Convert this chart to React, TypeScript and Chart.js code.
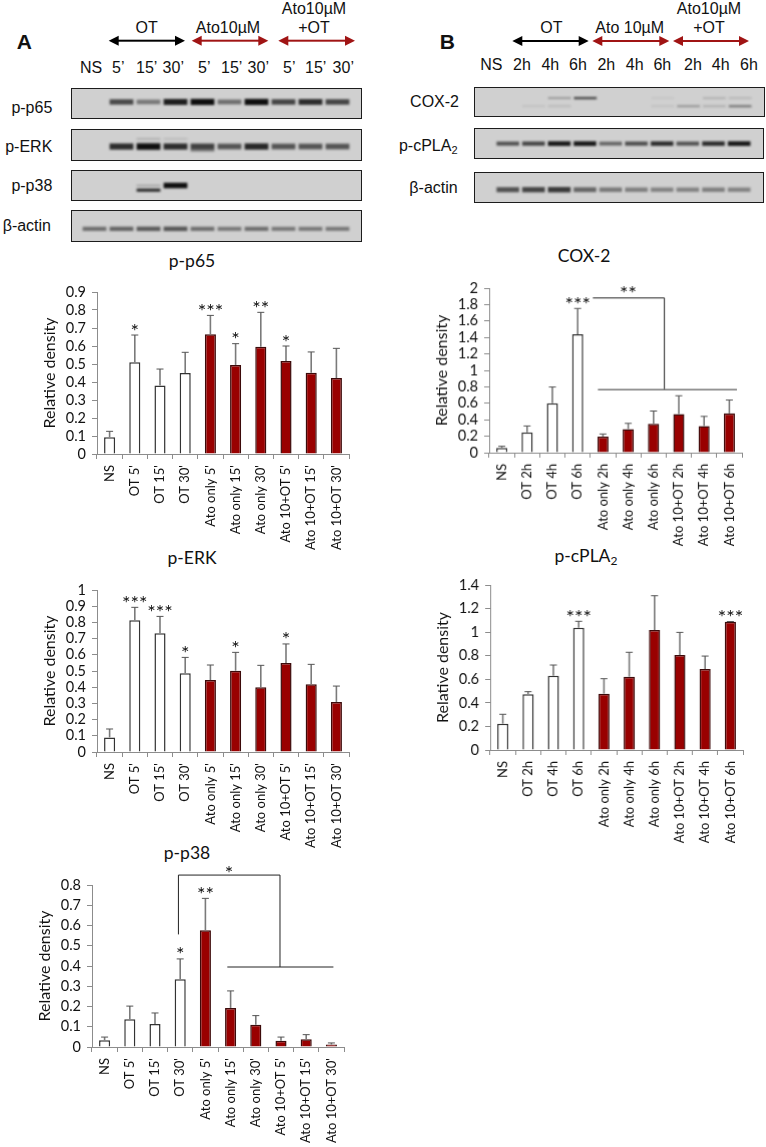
import React, { useEffect, useRef } from "react";
import { Chart, registerables } from "chart.js";

Chart.register(...registerables);

const FONT = "Lato, 'Open Sans', sans-serif";
const SANS = "'Liberation Sans', Arial, sans-serif";

// ---------- chart data ----------
const minuteCategories = ["NS", "OT 5'", "OT 15'", "OT 30'", "Ato only 5'", "Ato only 15'", "Ato only 30'", "Ato 10+OT 5'", "Ato 10+OT 15'", "Ato 10+OT 30'"];
const hourCategories = ["NS", "OT 2h", "OT 4h", "OT 6h", "Ato only 2h", "Ato only 4h", "Ato only 6h", "Ato 10+OT 2h", "Ato 10+OT 4h", "Ato 10+OT 6h"];

const p65Values = [0.093, 0.51, 0.381, 0.45, 0.665, 0.495, 0.596, 0.517, 0.452, 0.422];
const p65ErrTop = [0.126, 0.661, 0.472, 0.565, 0.77, 0.613, 0.787, 0.6, 0.567, 0.587];
const p65Stars = ["", "*", "", "", "***", "*", "**", "*", "", ""];

const erkValues = [0.09, 0.813, 0.733, 0.486, 0.444, 0.502, 0.4, 0.55, 0.418, 0.309];
const erkErrTop = [0.142, 0.893, 0.837, 0.584, 0.537, 0.615, 0.535, 0.667, 0.541, 0.407];
const erkStars = ["", "***", "***", "*", "", "*", "", "*", "", ""];

const p38Values = [0.033, 0.137, 0.114, 0.334, 0.576, 0.193, 0.11, 0.031, 0.038, 0.012];
const p38ErrTop = [0.049, 0.202, 0.168, 0.435, 0.734, 0.277, 0.155, 0.049, 0.061, 0.02];
const p38Stars = ["", "", "", "*", "**", "", "", "", "", ""];

const coxValues = [0.057, 0.247, 0.6, 1.44, 0.194, 0.287, 0.352, 0.47, 0.324, 0.478];
const coxErrTop = [0.077, 0.324, 0.798, 1.753, 0.227, 0.356, 0.506, 0.692, 0.441, 0.64];
const coxStars = ["", "", "", "***", "", "", "", "", "", ""];

const cplaValues = [0.223, 0.472, 0.631, 1.038, 0.478, 0.622, 1.018, 0.806, 0.687, 1.089];
const cplaErrTop = [0.303, 0.495, 0.721, 1.092, 0.605, 0.829, 1.309, 0.998, 0.797, 1.09];
const cplaStars = ["", "", "", "***", "", "", "", "", "", "***"];

// significance brackets: [x1, y1, x2, y2] in category index / value units
const coxBrackets = [[3.6, 1.88, 6.43, 1.88], [6.43, 1.88, 6.43, 0.765]];
const coxBracketsGrey = [[3.8, 0.765, 9.3, 0.765]];
const coxBracketStars = [[5.0, 1.854, "**"]];
const p38Brackets = [[2.93, 0.849, 6.96, 0.849], [2.93, 0.849, 2.93, 0.556], [6.96, 0.849, 6.96, 0.395], [4.87, 0.395, 9.08, 0.395]];
const p38BracketStars = [[4.94, 0.826, "*"]];

// ---------- blot data (band strength per lane) ----------
const p65Bands = [{ level: 0.45, thick: 0.2, alpha: [0, 0.7, 0.45, 0.92, 1, 0.5, 1, 0.72, 0.85, 0.72] }];
const erkBands = [
  { level: 0.56, thick: 0.2, alpha: [0, 0.85, 1, 0.85, 0.75, 0.65, 0.88, 0.65, 0.65, 0.65] },
  { level: 0.68, thick: 0.08, alpha: [0, 0, 0, 0, 0.45, 0, 0, 0, 0, 0] },
  { level: 0.33, thick: 0.06, alpha: [0, 0, 0.25, 0.18, 0, 0, 0, 0, 0, 0] },
];
const p38Bands = [
  { level: 0.65, thick: 0.11, alpha: [0, 0, 0.85, 0, 0, 0, 0, 0, 0, 0] },
  { level: 0.5, thick: 0.06, alpha: [0, 0, 0.3, 0, 0, 0, 0, 0, 0, 0] },
  { level: 0.5, thick: 0.18, alpha: [0, 0, 0, 1, 0, 0, 0, 0, 0, 0] },
];
const actinABands = [{ level: 0.62, thick: 0.17, alpha: [0.5, 0.55, 0.6, 0.62, 0.5, 0.45, 0.5, 0.45, 0.45, 0.45] }];
const coxBlotBands = [
  { level: 0.37, thick: 0.09, alpha: [0, 0, 0.3, 0.7, 0, 0, 0.06, 0, 0.18, 0.15] },
  { level: 0.64, thick: 0.1, alpha: [0, 0.08, 0.12, 0, 0, 0, 0.08, 0.3, 0.18, 0.45] },
];
const cplaBlotBands = [{ level: 0.52, thick: 0.16, alpha: [0.65, 0.72, 0.95, 0.95, 0.55, 0.68, 0.85, 0.65, 0.85, 0.95] }];
const actinBBands = [{ level: 0.59, thick: 0.2, alpha: [0.65, 0.72, 0.78, 0.55, 0.45, 0.42, 0.4, 0.4, 0.42, 0.4] }];
const laneNames = ["1", "2", "3", "4", "5", "6", "7", "8", "9", "10"];

const WHITE = "#ffffff";
const RED = "#990000";
const barFill = [WHITE, WHITE, WHITE, WHITE, RED, RED, RED, RED, RED, RED];
const barEdge = ["#333", "#333", "#333", "#333", "#3c0a0a", "#3c0a0a", "#3c0a0a", "#3c0a0a", "#3c0a0a", "#3c0a0a"];

function BarPanel(p: any) {
  const ref = useRef<HTMLCanvasElement>(null);
  useEffect(() => {
    const overlay = {
      id: "overlay",
      afterDatasetsDraw(chart: any) {
        const { ctx, scales } = chart;
        const x = scales.x, y = scales.y;
        ctx.save();
        p.errTop.forEach((top: number, i: number) => {
          const px = x.getPixelForValue(i);
          const y1 = y.getPixelForValue(p.values[i]);
          const y2 = y.getPixelForValue(top);
          ctx.strokeStyle = "#7a7a7a";
          ctx.lineWidth = 1.6;
          ctx.beginPath();
          ctx.moveTo(px, y1);
          ctx.lineTo(px, y2);
          ctx.stroke();
          ctx.strokeStyle = "#555";
          ctx.lineWidth = 1;
          ctx.beginPath();
          ctx.moveTo(px - 3.5, y2);
          ctx.lineTo(px + 3.5, y2);
          ctx.stroke();
          if (p.stars[i]) {
            ctx.fillStyle = "#111";
            ctx.font = `20px ${FONT}`;
            ctx.textAlign = "center";
            ctx.textBaseline = "alphabetic";
            ctx.fillText(p.stars[i], px, y2 + 2.5);
          }
        });
        const seg = (list: number[][], color: string, w: number) => {
          ctx.strokeStyle = color;
          ctx.lineWidth = w;
          list.forEach(([a, b, c, d]) => {
            ctx.beginPath();
            ctx.moveTo(x.getPixelForValue(a), y.getPixelForValue(b));
            ctx.lineTo(x.getPixelForValue(c), y.getPixelForValue(d));
            ctx.stroke();
          });
        };
        seg(p.brackets || [], "#222", 1);
        seg(p.bracketsGrey || [], "#777", 1.4);
        (p.bracketStars || []).forEach(([a, b, s]: any) => {
          ctx.fillStyle = "#111";
          ctx.font = `20px ${FONT}`;
          ctx.textAlign = "center";
          ctx.textBaseline = "alphabetic";
          ctx.fillText(s, x.getPixelForValue(a), y.getPixelForValue(b));
        });
        ctx.restore();
      },
    };
    const chart = new Chart(ref.current as any, {
      type: "bar",
      data: {
        labels: p.categories,
        datasets: [{
          data: p.values,
          backgroundColor: barFill,
          borderColor: barEdge,
          borderWidth: 1.5,
          barPercentage: 0.44,
          categoryPercentage: 1,
        }],
      },
      plugins: [overlay],
      options: {
        responsive: false,
        animation: false,
        events: [],
        layout: { padding: { top: p.padTop, right: 10, left: 0, bottom: 0 } },
        plugins: { legend: { display: false }, tooltip: { enabled: false }, title: { display: false } },
        scales: {
          x: {
            afterFit: (s: any) => { s.height = p.xHeight; },
            grid: { offset: true, drawOnChartArea: false, drawTicks: true, tickLength: 5, color: "#8c8c8c", tickColor: "#8c8c8c" },
            border: { color: "#8c8c8c", width: 1 },
            ticks: { autoSkip: false, minRotation: 90, maxRotation: 90, padding: 6, color: "#111", font: { family: FONT, size: 13 } },
          },
          y: {
            min: 0,
            max: p.max,
            afterFit: (s: any) => { s.width = p.yWidth; },
            title: { display: true, text: "Relative density", color: "#111", padding: 0, font: { family: FONT, size: 16 } },
            grid: { drawOnChartArea: false, drawTicks: true, tickLength: 5, color: "#8c8c8c", tickColor: "#8c8c8c" },
            border: { color: "#8c8c8c", width: 1 },
            ticks: {
              stepSize: p.step,
              autoSkip: false,
              padding: 6,
              color: "#111",
              font: { family: FONT, size: 14.5 },
              callback: (v: any) => String(+Number(v).toFixed(1)),
            },
          },
        },
      },
    } as any);
    return () => chart.destroy();
  }, []);
  const width = p.plotRight - p.plotLeft + p.yWidth + 10;
  const height = p.padTop + (p.plotBottom - p.plotTop) + p.xHeight;
  return (
    <canvas
      ref={ref}
      width={width}
      height={height}
      style={{ position: "absolute", left: p.plotLeft - p.yWidth, top: p.plotTop - p.padTop, width, height }}
    />
  );
}

function Blot(p: any) {
  const ref = useRef<HTMLCanvasElement>(null);
  const w = p.right - p.left;
  const h = p.bottom - p.top;
  useEffect(() => {
    const chart = new Chart(ref.current as any, {
      type: "bar",
      data: {
        labels: laneNames,
        datasets: p.bands.map((b: any) => ({
          data: b.alpha.map((a: number) => {
            const t = b.thick * (0.55 + 0.45 * a);
            return a > 0 ? [b.level - t / 2, b.level + t / 2] : null;
          }),
          backgroundColor: b.alpha.map((a: number) => `rgba(15,15,15,${a})`),
          barPercentage: 0.88,
          categoryPercentage: 1,
          grouped: false,
        })),
      },
      options: {
        responsive: false,
        animation: false,
        events: [],
        layout: { padding: { left: p.padLeft, right: p.padRight, top: 0, bottom: 0 } },
        plugins: { legend: { display: false }, tooltip: { enabled: false } },
        scales: {
          x: { display: false },
          y: { display: false, min: 0, max: 1, reverse: true },
        },
      },
    } as any);
    return () => chart.destroy();
  }, []);
  return (
    <div style={{ position: "absolute", left: p.left, top: p.top, width: w, height: h, boxSizing: "border-box", border: "1.5px solid #1c1c1c", background: "#d0d0d0", overflow: "hidden" }}>
      <canvas ref={ref} width={w} height={h} style={{ position: "absolute", left: -1.5, top: -1.5, width: w, height: h, filter: "blur(1.2px)" }} />
    </div>
  );
}

function T({ x, y, children, align = "center", size = 16, family = SANS, weight = 400 }: any) {
  const tx = align === "center" ? "-50%" : align === "right" ? "-100%" : "0";
  return (
    <div style={{ position: "absolute", left: x, top: y, transform: `translate(${tx},-50%)`, fontFamily: family, fontSize: size, fontWeight: weight, color: "#111", whiteSpace: "nowrap", lineHeight: 1 }}>
      {children}
    </div>
  );
}

function Arrow({ x1, x2, y, color }: any) {
  const head = 10, half = 5;
  return (
    <g fill={color} stroke="none">
      <rect x={x1 + head - 1} y={y - 1} width={x2 - x1 - 2 * head + 2} height={2} />
      <polygon points={`${x1},${y} ${x1 + head},${y - half} ${x1 + head},${y + half}`} />
      <polygon points={`${x2},${y} ${x2 - head},${y - half} ${x2 - head},${y + half}`} />
    </g>
  );
}

const laneLabelsA: [number, string][] = [[91, "NS"], [118.3, "5’"], [146.7, "15’"], [173.3, "30’"], [204.3, "5’"], [231.7, "15’"], [258.3, "30’"], [289.3, "5’"], [315.7, "15’"], [343.3, "30’"]];
const laneLabelsB: [number, string][] = [[491.3, "NS"], [522, "2h"], [550.3, "4h"], [578, "6h"], [606.3, "2h"], [634.7, "4h"], [662.3, "6h"], [693, "2h"], [720.7, "4h"], [749, "6h"]];

export default function App() {
  return (
    <div style={{ position: "absolute", left: 0, top: 0, width: 766, height: 1147, overflow: "hidden", background: "#fff" }}>
      <svg width={766} height={1147} style={{ position: "absolute", left: 0, top: 0 }}>
        <Arrow x1={108.7} x2={185} y={40.7} color="#000" />
        <Arrow x1={191.7} x2={268.3} y={40.7} color="#a01414" />
        <Arrow x1={278.3} x2={355} y={40.7} color="#a01414" />
        <Arrow x1={512.3} x2={588.7} y={41} color="#000" />
        <Arrow x1={592.3} x2={669.3} y={41} color="#a01414" />
        <Arrow x1={673} x2={749} y={41} color="#a01414" />
      </svg>

      <T x={24.3} y={41} size={21} weight={700}>A</T>
      <T x={447.3} y={41} size={21} weight={700}>B</T>

      <T x={146.7} y={28}>OT</T>
      <T x={228} y={28}>Ato10µM</T>
      <T x={314} y={8.5}>Ato10µM</T>
      <T x={314} y={28}>+OT</T>
      <T x={551.3} y={28}>OT</T>
      <T x={629.7} y={28}>Ato 10µM</T>
      <T x={709} y={8.5}>Ato10µM</T>
      <T x={709} y={28}>+OT</T>

      {laneLabelsA.map(([x, s], i) => <T key={"a" + i} x={x} y={68}>{s}</T>)}
      {laneLabelsB.map(([x, s], i) => <T key={"b" + i} x={x} y={65}>{s}</T>)}

      <T x={52.3} y={108} align="right">p-p65</T>
      <T x={52.3} y={147} align="right">p-ERK</T>
      <T x={52.3} y={186} align="right">p-p38</T>
      <T x={51} y={226} align="right">β-actin</T>
      <T x={459} y={102} align="right">COX-2</T>
      <T x={457.5} y={146} align="right">p-cPLA<sub style={{ fontSize: 11, verticalAlign: -3, lineHeight: 0 }}>2</sub></T>
      <T x={457.7} y={187.5} align="right">β-actin</T>

      <Blot left={71} right={362} top={88} bottom={119} padLeft={10} padRight={11} bands={p65Bands} />
      <Blot left={71} right={362} top={128.5} bottom={161} padLeft={10} padRight={11} bands={erkBands} />
      <Blot left={71} right={362} top={170} bottom={201} padLeft={10} padRight={11} bands={p38Bands} />
      <Blot left={71} right={362} top={209.5} bottom={241.5} padLeft={10} padRight={11} bands={actinABands} />
      <Blot left={474} right={765} top={87} bottom={117} padLeft={21} padRight={12} bands={coxBlotBands} />
      <Blot left={474} right={764} top={128} bottom={158.5} padLeft={21} padRight={12} bands={cplaBlotBands} />
      <Blot left={474} right={764} top={172} bottom={202.5} padLeft={21} padRight={12} bands={actinBBands} />

      <T x={192} y={261} size={17.5} family={FONT}>p-p65</T>
      <T x={584} y={256} size={17.5} family={FONT}>COX-2</T>
      <T x={192} y={558} size={17.5} family={FONT}>p-ERK</T>
      <T x={586} y={556} size={17.5} family={FONT}>p-cPLA<sub style={{ fontSize: 12, verticalAlign: -3, lineHeight: 0 }}>2</sub></T>
      <T x={187} y={853} size={17.5} family={FONT}>p-p38</T>

      <BarPanel categories={minuteCategories} values={p65Values} errTop={p65ErrTop} stars={p65Stars} max={0.9} step={0.1}
        plotLeft={96.7} plotRight={349.5} plotTop={292.3} plotBottom={454.3} yWidth={57} xHeight={100} padTop={20} />
      <BarPanel categories={hourCategories} values={coxValues} errTop={coxErrTop} stars={coxStars} max={2} step={0.2}
        brackets={coxBrackets} bracketsGrey={coxBracketsGrey} bracketStars={coxBracketStars}
        plotLeft={489.3} plotRight={741.7} plotTop={288.3} plotBottom={453} yWidth={57} xHeight={100} padTop={20} />
      <BarPanel categories={minuteCategories} values={erkValues} errTop={erkErrTop} stars={erkStars} max={1} step={0.1}
        plotLeft={96.7} plotRight={349.5} plotTop={590.3} plotBottom={752.3} yWidth={57} xHeight={100} padTop={20} />
      <BarPanel categories={hourCategories} values={cplaValues} errTop={cplaErrTop} stars={cplaStars} max={1.4} step={0.2}
        plotLeft={490.3} plotRight={743.3} plotTop={585.3} plotBottom={750.3} yWidth={57} xHeight={100} padTop={20} />
      <BarPanel categories={minuteCategories} values={p38Values} errTop={p38ErrTop} stars={p38Stars} max={0.8} step={0.1}
        brackets={p38Brackets} bracketStars={p38BracketStars}
        plotLeft={91.7} plotRight={344} plotTop={885.3} plotBottom={1047.3} yWidth={57} xHeight={99} padTop={30} />
    </div>
  );
}
